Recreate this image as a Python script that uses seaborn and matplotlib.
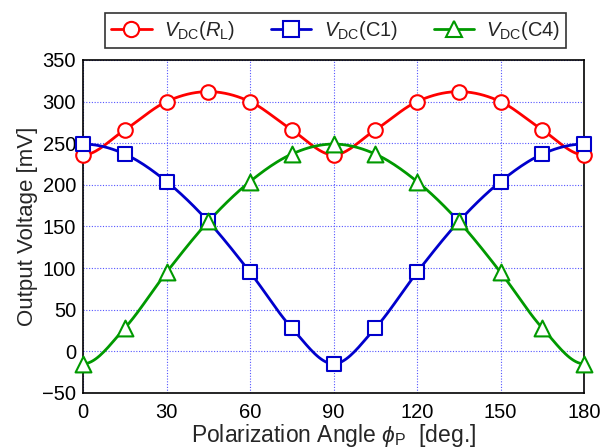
import numpy as np
import pandas as pd
import matplotlib
matplotlib.use("Agg")
import matplotlib.pyplot as plt
import seaborn as sns

angles = [0, 15, 30, 45, 60, 75, 90, 105, 120, 135, 150, 165, 180]
v_rl = [236, 266, 300, 312, 300, 266, 236, 266, 300, 312, 300, 266, 236]
v_c1 = [249, 237, 204, 156, 95, 28, -15, 28, 95, 156, 204, 237, 249]
v_c4 = [-15, 28, 95, 156, 204, 237, 249, 237, 204, 156, 95, 28, -15]
labels = [r"$V_\mathrm{DC}(R_\mathrm{L})$", r"$V_\mathrm{DC}(\mathrm{C1})$", r"$V_\mathrm{DC}(\mathrm{C4})$"]
colors = ["#ff0000", "#0000cc", "#009900"]
markers = ["o", "s", "^"]
sizes = [110, 110, 130]
xticks = [0, 30, 60, 90, 120, 150, 180]
yticks = [-50, 0, 50, 100, 150, 200, 250, 300, 350]

sns.set_style("white")
plt.rcParams["font.family"] = ["Liberation Sans", "DejaVu Sans"]
plt.rcParams["mathtext.fontset"] = "custom"
plt.rcParams["mathtext.rm"] = "Liberation Sans"
plt.rcParams["mathtext.it"] = "Liberation Sans:italic"
plt.rcParams["mathtext.bf"] = "Liberation Sans:bold"

def smooth(x, y, n=20):
    # Catmull-Rom curve through the data points (display only)
    x = np.asarray(x, float); y = np.asarray(y, float)
    px = np.concatenate([[2*x[0]-x[1]], x, [2*x[-1]-x[-2]]])
    py = np.concatenate([[y[1]], y, [y[-2]]])
    xs, ys = [], []
    for i in range(1, len(px)-2):
        t = np.linspace(0, 1, n, endpoint=False)
        for P, out in ((px, xs), (py, ys)):
            p0, p1, p2, p3 = P[i-1], P[i], P[i+1], P[i+2]
            out.extend(0.5*((2*p1) + (-p0+p2)*t + (2*p0-5*p1+4*p2-p3)*t**2 + (-p0+3*p1-3*p2+p3)*t**3))
    xs.append(x[-1]); ys.append(y[-1])
    return np.array(xs), np.array(ys)

fig = plt.figure(figsize=(6.04, 4.48), dpi=100)
ax = fig.add_axes([0.1375, 0.1228, 0.8295, 0.7433])

handles = []
for vals, lab, c, m, sz in zip([v_rl, v_c1, v_c4], labels, colors, markers, sizes):
    sx, sy = smooth(angles, vals)
    sns.lineplot(x=sx, y=sy, ax=ax, color=c, lw=2, sort=False, estimator=None)
    df = pd.DataFrame({"a": angles, "v": vals})
    sns.scatterplot(data=df, x="a", y="v", ax=ax, marker=m, s=sz, facecolor="white",
                    edgecolor=c, linewidth=1.5, zorder=5, clip_on=False)
    h, = ax.plot([], [], color=c, lw=2, marker=m, ms=11, mfc="white", mec=c, mew=1.5)
    handles.append(h)

ax.set_xlim(0, 180)
ax.set_ylim(-50, 350)
ax.set_xticks(xticks)
ax.set_yticks(yticks)
ax.grid(True, color="#5555ff", linestyle=(0, (1, 1.5)), linewidth=0.8)
ax.tick_params(direction="in", length=6, width=1, labelsize=14.5, colors="black", pad=5)
ax.tick_params(axis="x", pad=7)
ax.tick_params(axis="both", color="#333333")
for s in ax.spines.values():
    s.set_color("black"); s.set_linewidth(1.2)
ax.set_xlabel(r"Polarization Angle $\phi_\mathrm{P}$  [deg.]", fontsize=16.5, labelpad=0)
ax.set_ylabel("Output Voltage [mV]", fontsize=16, labelpad=3)

leg = fig.legend(handles, labels, loc="upper center", bbox_to_anchor=(0.556, 0.972), ncol=3,
                 fontsize=14.5, frameon=True, fancybox=False, edgecolor="black",
                 handlelength=2.0, columnspacing=1.8, handletextpad=0.6, borderpad=0.3,
                 borderaxespad=0)
leg.get_frame().set_linewidth(1.2)

fig.savefig("out.png", dpi=100)
